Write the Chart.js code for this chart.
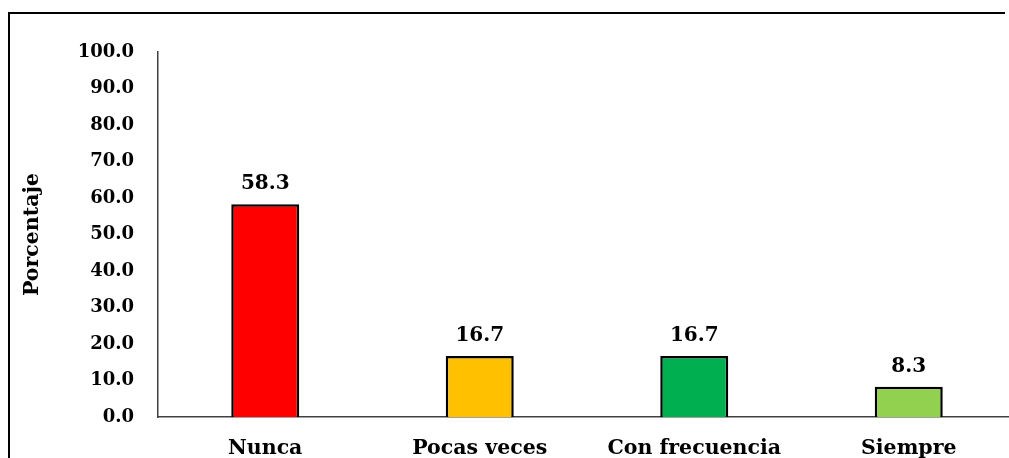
<!DOCTYPE html>
<html>
<head>
<meta charset="utf-8">
<script src="https://cdn.jsdelivr.net/npm/chart.js"></script>
<style>
  html, body { margin: 0; padding: 0; background: #fff; overflow: hidden; }
  #wrap { position: absolute; left: 0; top: 0; width: 1018px; height: 470px; }
</style>
</head>
<body>
<div id="wrap"><canvas id="chart"></canvas></div>
<script>
const categories = ['Nunca', 'Pocas veces', 'Con frecuencia', 'Siempre'];
const percentages = [58.3, 16.7, 16.7, 8.3];
const barColors = ['#FF0000', '#FFC000', '#00B050', '#92D050'];
const yTicks = [0, 10, 20, 30, 40, 50, 60, 70, 80, 90, 100];

const serif = 'DejaVu Serif';

// outer chart frame, only top and left sides are visible in the crop
const chartFrame = {
  id: 'chartFrame',
  beforeDraw(chart) {
    const ctx = chart.ctx;
    ctx.save();
    ctx.strokeStyle = '#000';
    ctx.lineWidth = 2;
    ctx.beginPath();
    ctx.moveTo(9, chart.height + 10);
    ctx.lineTo(9, 13);
    ctx.lineTo(1005, 13);
    ctx.stroke();
    ctx.restore();
  }
};

const valueLabels = {
  id: 'valueLabels',
  afterDatasetsDraw(chart) {
    const ctx = chart.ctx;
    const meta = chart.getDatasetMeta(0);
    ctx.save();
    ctx.font = 'bold 20px "' + serif + '"';
    ctx.fillStyle = '#000';
    ctx.textAlign = 'center';
    ctx.textBaseline = 'alphabetic';
    meta.data.forEach((bar, i) => {
      ctx.fillText(percentages[i].toFixed(1), bar.x, bar.y - 15);
    });
    ctx.restore();
  }
};

new Chart(document.getElementById('chart'), {
  type: 'bar',
  data: {
    labels: categories,
    datasets: [{
      data: percentages,
      backgroundColor: barColors,
      borderColor: '#000',
      borderWidth: 2.5,
      barPercentage: 0.317,
      categoryPercentage: 1
    }]
  },
  options: {
    responsive: true,
    maintainAspectRatio: false,
    animation: false,
    layout: { padding: { top: 52, right: 2, bottom: 8, left: 0 } },
    plugins: { legend: { display: false }, tooltip: { enabled: false } },
    scales: {
      x: {
        grid: { display: false, drawTicks: false },
        border: { color: '#404040', width: 1.5 },
        ticks: { color: '#000', padding: 19, font: { family: serif, weight: 'bold', size: 20.5 } },
        afterFit(scale) { scale.height = 45; }
      },
      y: {
        min: 0,
        max: 100,
        afterBuildTicks(scale) { scale.ticks = yTicks.map(v => ({ value: v })); },
        grid: { display: false, drawTicks: false },
        border: { color: '#404040', width: 1.5 },
        ticks: {
          color: '#000',
          padding: 24,
          font: { family: serif, weight: 'bold', size: 18 },
          callback: v => Number(v).toFixed(1)
        },
        title: {
          display: true,
          text: 'Porcentaje',
          color: '#000',
          padding: { top: 20, bottom: 0 },
          font: { family: serif, weight: 'bold', size: 20.5 }
        },
        afterFit(scale) { scale.width = 158; }
      }
    }
  },
  plugins: [chartFrame, valueLabels]
});
</script>
</body>
</html>
